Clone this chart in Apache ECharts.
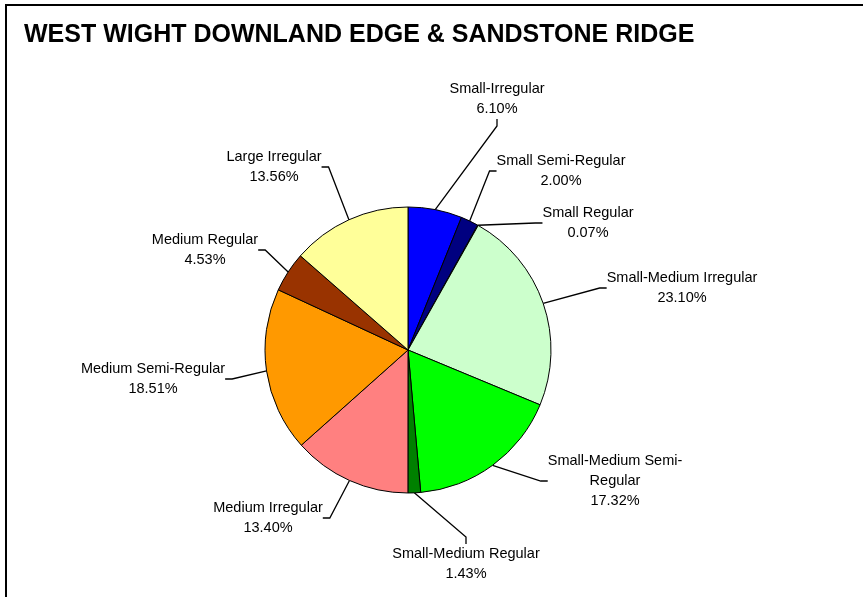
<!DOCTYPE html>
<html>
<head>
<meta charset="utf-8">
<script src="https://cdn.jsdelivr.net/npm/echarts@6/dist/echarts.min.js"></script>
<style>html,body{margin:0;padding:0;background:#fff;}#c{width:863px;height:597px;}</style>
</head>
<body>
<div id="c"></div>
<script>
var categories = ['Small-Irregular','Small Semi-Regular','Small Regular','Small-Medium Irregular','Small-Medium Semi-Regular','Small-Medium Regular','Medium Irregular','Medium Semi-Regular','Medium Regular','Large Irregular'];
var values = [6.10, 2.00, 0.07, 23.10, 17.32, 1.43, 13.40, 18.51, 4.53, 13.56];
var colors = ['#0000FF','#000080','#339966','#CCFFCC','#00FF00','#008000','#FF8080','#FF9900','#993300','#FFFF99'];
var labelText = ['Small-Irregular','Small Semi-Regular','Small Regular','Small-Medium Irregular','Small-Medium Semi-\nRegular','Small-Medium Regular','Medium Irregular','Medium Semi-Regular','Medium Regular','Large Irregular'];
var labelPos = [[497,99],[561,171],[588,223],[682,288],[615,481],[466,564],[268,518],[153,379],[205,250],[274,167]];

var chart = echarts.init(document.getElementById('c'));
chart.setOption({
  animation: false,
  backgroundColor: '#fff',
  graphic: [{type:'rect', shape:{x:6,y:5,width:900,height:700}, style:{fill:'none', stroke:'#000', lineWidth:2}, silent:true}],
  title: {text:'WEST WIGHT DOWNLAND EDGE & SANDSTONE RIDGE', left:19, top:18, textStyle:{fontFamily:'Liberation Sans', fontWeight:'bold', fontSize:25, color:'#000'}},
  series: [{
    type:'pie',
    center:[408,350],
    radius:143,
    startAngle:90,
    clockwise:true,
    avoidLabelOverlap:false,
    data: categories.map(function(n,i){return {name:n, value:values[i], itemStyle:{color:colors[i]}};}),
    itemStyle:{borderColor:'#000', borderWidth:1},
    label:{show:true, position:'outside', fontFamily:'Liberation Sans', fontSize:14.5, lineHeight:20, color:'#000', align:'center',
      formatter:function(p){return labelText[p.dataIndex]+'\n'+values[p.dataIndex].toFixed(2)+'%';}},
    labelLine:{show:true, length:10, length2:7, minTurnAngle:0, lineStyle:{color:'#000', width:1.3}},
    labelLayout:function(p){var q=labelPos[p.dataIndex];return {x:q[0], y:q[1], align:'center', verticalAlign:'middle'};},
    emphasis:{disabled:true}
  }]
});
</script>
</body>
</html>
